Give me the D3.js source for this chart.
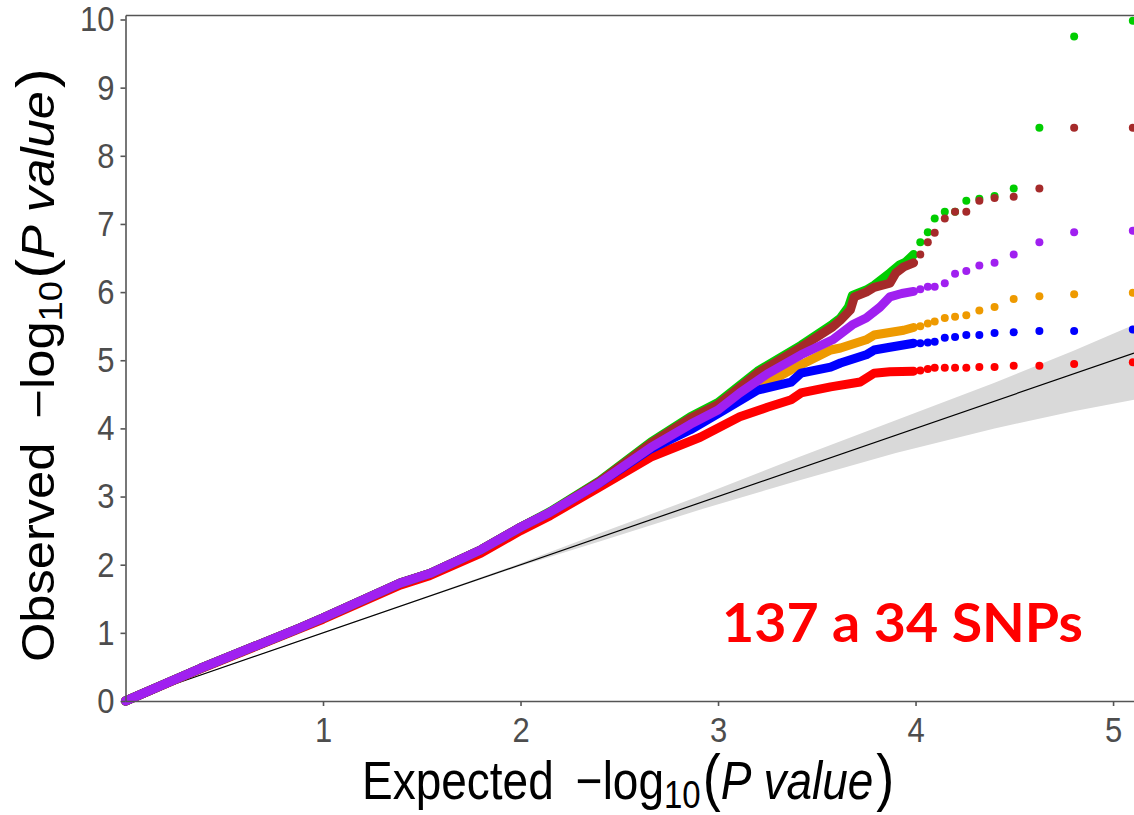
<!DOCTYPE html>
<html>
<head>
<meta charset="utf-8">
<script src="https://cdn.jsdelivr.net/npm/d3@7"></script>
<style>
  body { margin: 0; background: #fff; }
  svg { display: block; }
</style>
</head>
<body>
<div id="chart"></div>
<script>
// ---- data ----
let xTicks = [1, 2, 3, 4, 5];
let yTicks = [0, 1, 2, 3, 4, 5, 6, 7, 8, 9, 10];

// expected -log10(p) of the top ranked SNPs (shared by every series)
let tailX = [4.024, 4.062, 4.097, 4.148, 4.2, 4.257, 4.323, 4.40, 4.497, 4.627, 4.803, 5.1];

let redTail    = [4.85, 4.87, 4.89, 4.89, 4.89, 4.89, 4.90, 4.90, 4.92, 4.92, 4.945, 4.97];
let blueTail   = [5.25, 5.26, 5.27, 5.33, 5.34, 5.37, 5.37, 5.40, 5.41, 5.43, 5.43, 5.45];
let orangeTail = [5.50, 5.54, 5.57, 5.62, 5.64, 5.66, 5.73, 5.78, 5.90, 5.94, 5.97, 5.99];
let purpleTail = [6.04, 6.08, 6.08, 6.13, 6.27, 6.31, 6.39, 6.43, 6.55, 6.73, 6.88, 6.90];
let brownTail  = [6.55, 6.73, 6.87, 7.08, 7.18, 7.18, 7.34, 7.38, 7.40, 7.52, 8.41, 8.41];
let greenTail  = [6.73, 6.88, 7.08, 7.18, 7.18, 7.34, 7.37, 7.41, 7.52, 8.41, 9.75, 9.98];

// dense part of each series: [expected, observed]
let redDense = [[0,0],[0.38,0.47],[0.88,1.06],[1.0,1.2],[1.39,1.7],[1.54,1.84],[1.8,2.17],[2.0,2.5],
  [2.15,2.72],[2.4,3.14],[2.66,3.58],[2.91,3.87],[3.11,4.17],[3.25,4.31],[3.37,4.42],[3.42,4.52],
  [3.57,4.61],[3.72,4.68],[3.79,4.81],[3.87,4.83],[3.99,4.84]];
let orangeDense = [[0,0],[0.38,0.48],[0.88,1.07],[1.0,1.22],[1.39,1.73],[1.54,1.87],[1.8,2.22],[2.0,2.55],
  [2.15,2.77],[2.4,3.2],[2.66,3.72],[2.86,4.05],[3.03,4.31],[3.25,4.67],[3.37,4.86],[3.57,5.15],
  [3.62,5.18],[3.75,5.3],[3.79,5.37],[3.94,5.44],[3.99,5.48]];
let blueDense = [[0,0],[0.38,0.48],[0.88,1.07],[1.0,1.22],[1.39,1.73],[1.54,1.87],[1.8,2.22],[2.0,2.55],
  [2.15,2.77],[2.4,3.2],[2.66,3.7],[2.86,3.98],[3.03,4.27],[3.2,4.56],[3.37,4.68],[3.42,4.81],
  [3.57,4.9],[3.62,4.96],[3.75,5.08],[3.79,5.15],[3.87,5.19],[3.99,5.25]];
let greenDense = [[0,0],[0.38,0.48],[0.88,1.07],[1.0,1.22],[1.39,1.73],[1.54,1.87],[1.8,2.22],[2.0,2.55],
  [2.15,2.78],[2.4,3.23],[2.66,3.8],[2.86,4.17],[3.0,4.38],[3.2,4.84],[3.42,5.22],[3.58,5.53],
  [3.62,5.62],[3.66,5.78],[3.68,5.95],[3.75,6.03],[3.79,6.1],[3.87,6.28],[3.92,6.4],[3.95,6.44],[3.99,6.55]];
let brownDense = [[0,0],[0.38,0.48],[0.88,1.07],[1.0,1.22],[1.39,1.73],[1.54,1.87],[1.8,2.22],[2.0,2.55],
  [2.15,2.77],[2.4,3.22],[2.66,3.78],[2.86,4.15],[3.0,4.35],[3.2,4.81],[3.42,5.19],[3.58,5.49],
  [3.62,5.59],[3.67,5.74],[3.69,5.93],[3.75,6.0],[3.79,6.07],[3.87,6.13],[3.9,6.28],[3.94,6.37],[3.99,6.43]];
let purpleDense = [[0,0],[0.38,0.48],[0.88,1.07],[1.0,1.22],[1.39,1.73],[1.54,1.87],[1.8,2.22],[2.0,2.55],
  [2.15,2.77],[2.4,3.2],[2.66,3.72],[2.86,4.06],[3.0,4.27],[3.11,4.52],[3.25,4.8],[3.42,5.08],
  [3.58,5.3],[3.68,5.52],[3.75,5.62],[3.82,5.78],[3.87,5.93],[3.93,5.98],[3.99,6.01]];

// grey band round the diagonal
let bandX  = [0, 1.0, 1.5, 2.0, 2.4, 2.9, 3.4, 3.9, 4.4, 4.8, 5.106];
let bandLo = [0, 0.99, 1.49, 1.98, 2.34, 2.8, 3.23, 3.64, 4.0, 4.25, 4.42];
let bandHi = [0, 1.01, 1.51, 2.02, 2.46, 3.0, 3.57, 4.12, 4.67, 5.14, 5.52];

let seriesNames  = ["red", "orange", "blue", "green", "brown", "purple"];
let seriesColors = ["#ff0000", "#ee9a00", "#0000ff", "#00cd00", "#a52a2a", "#a020f0"];
let denseList = [redDense, orangeDense, blueDense, greenDense, brownDense, purpleDense];
let tailList  = [redTail, orangeTail, blueTail, greenTail, brownTail, purpleTail];

// ---- drawing ----
let svg = d3.select("#chart")
              .append("svg")
                  .attr("width", 1134)
                  .attr("height", 815)
;

let x = d3.scaleLinear().domain([0, 5.106]).range([125.5, 1134]);
let y = d3.scaleLinear().domain([0, 10.066]).range([701, 15]);

// confidence band
let band = bandX.map(function(v, i){ return {x: v, lo: bandLo[i], hi: bandHi[i]}; });
let area = d3.area()
               .x(function(d){ return x(d.x); })
               .y0(function(d){ return y(d.lo); })
               .y1(function(d){ return y(d.hi); })
;
svg.append("path")
     .attr("d", area(band))
     .attr("fill", "#d9d9d9");

// diagonal
let diag = d3.line().x(function(d){ return x(d); }).y(function(d){ return y(d); });
svg.append("path")
     .attr("d", diag([0, 5.106]))
     .attr("stroke", "black")
     .attr("stroke-width", 1.2)
     .attr("fill", "none");

// series
let line = d3.line().x(function(d){ return x(d[0]); }).y(function(d){ return y(d[1]); });
for (let i = 0; i < seriesNames.length; i++) {
  let g = svg.append("g").attr("class", "series-" + seriesNames[i]);
  g.append("path")
     .attr("d", line(denseList[i]))
     .attr("stroke", seriesColors[i])
     .attr("stroke-width", 9)
     .attr("stroke-linecap", "round")
     .attr("stroke-linejoin", "round")
     .attr("fill", "none");
  g.selectAll("circle")
     .data(tailList[i])
     .enter()
     .append("circle")
       .attr("cx", function(d, j){ return x(tailX[j]); })
       .attr("cy", function(d){ return y(d); })
       .attr("r", 4)
       .attr("fill", seriesColors[i]);
}

// axes
let axisColor = "#555555";
let yAxis = svg.append("g")
                 .attr("transform", "translate(125.5,0)")
                 .call(d3.axisLeft(y).tickValues(yTicks).tickSize(5).tickSizeOuter(0).tickPadding(6));
let xAxis = svg.append("g")
                 .attr("transform", "translate(0,701)")
                 .call(d3.axisBottom(x).tickValues(xTicks).tickFormat(d3.format("d"))
                          .tickSize(5).tickSizeOuter(0).tickPadding(8));
let topLine = svg.append("g")
                 .attr("transform", "translate(0,15)")
                 .call(d3.axisTop(x).tickValues([]).tickSizeOuter(0));

[yAxis, xAxis, topLine].forEach(function(a){
  a.selectAll("path, line").attr("stroke", axisColor).attr("stroke-width", 1.6);
  a.selectAll("text")
     .attr("fill", "#4d4d4d")
     .attr("font-family", "Liberation Sans, Arial, sans-serif")
     .attr("font-size", 31)
     .attr("transform", "scale(1,1.15)");
});
xAxis.selectAll("text").attr("dy", "0.72em");

// axis titles
let fam = "Liberation Sans, Arial, sans-serif";
function title(sel, first){
  sel.attr("font-family", fam).attr("font-size", 46).attr("fill", "black");
  sel.append("tspan").text(first);
  sel.append("tspan").attr("dx", 22).text("\u2212log");
  sel.append("tspan").attr("dy", 8).attr("font-size", 33).text("10");
  sel.append("tspan").attr("dy", -8).attr("dx", 2).attr("font-size", 54).text("(");
  sel.append("tspan").attr("font-style", "italic").text("P");
  sel.append("tspan").attr("dx", 12).attr("font-style", "italic").text("value");
  sel.append("tspan").attr("dx", 3).attr("font-size", 54).text(")");
}
let xt = svg.append("text")
              .attr("transform", "translate(362,799) scale(1,1.15)");
title(xt, "Expected");

let yt = svg.append("text")
              .attr("transform", "translate(54,662) rotate(-90) scale(1.1,1)");
title(yt, "Observed");

// annotation
svg.append("text")
     .attr("x", 722)
     .attr("y", 642)
     .attr("font-family", "Lato, Open Sans, sans-serif")
     .attr("font-weight", "bold")
     .attr("font-size", 54)
     .attr("fill", "#ff0000")
     .attr("textLength", 361)
     .attr("lengthAdjust", "spacingAndGlyphs")
     .text("137 a 34 SNPs");
</script>
</body>
</html>
